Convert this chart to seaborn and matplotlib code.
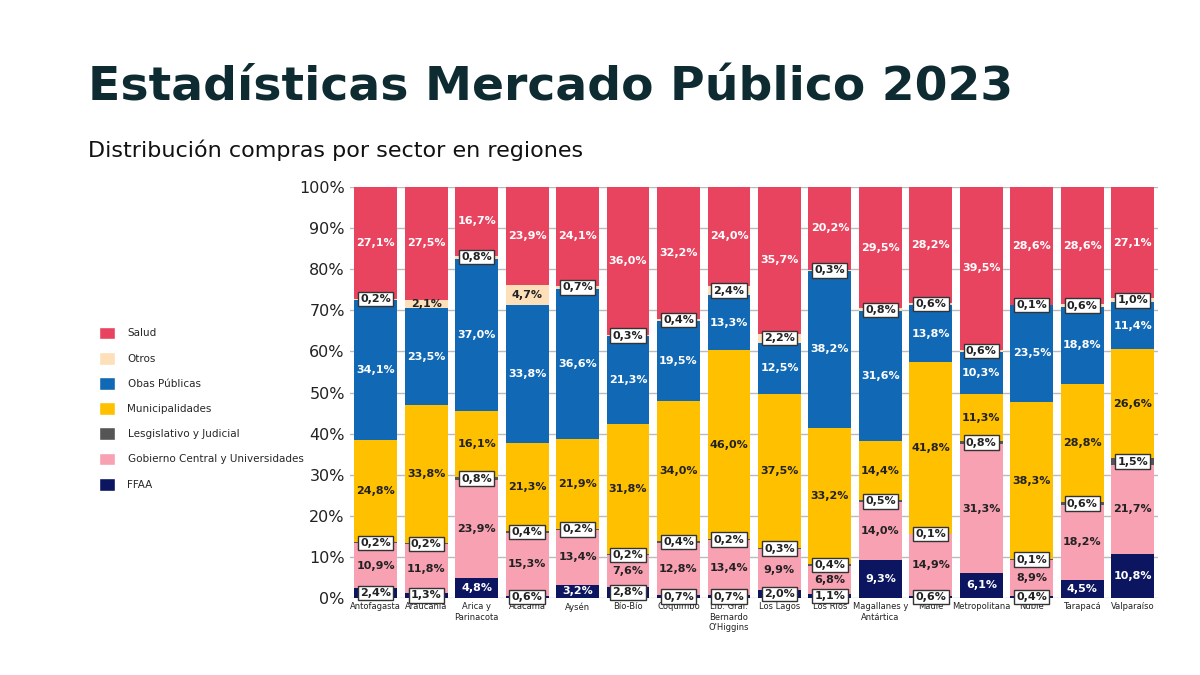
import matplotlib
matplotlib.use("Agg")
import matplotlib.pyplot as plt
import seaborn as sns
import numpy as np
import pandas as pd
from matplotlib.patches import Patch

regions = ["Antofagasta", "Araucanía", "Arica y\nParinacota", "Atacama", "Aysén", "Bío-Bío",
           "Coquimbo", "Lib. Gral.\nBernardo\nO'Higgins", "Los Lagos", "Los Ríos",
           "Magallanes y\nAntártica", "Maule", "Metropolitana", "Ñuble", "Tarapacá", "Valparaíso"]
ffaa = [2.4, 1.3, 4.8, 0.6, 3.2, 2.8, 0.7, 0.7, 2.0, 1.1, 9.3, 0.6, 6.1, 0.4, 4.5, 10.8]
gobierno = [10.9, 11.8, 23.9, 15.3, 13.4, 7.6, 12.8, 13.4, 9.9, 6.8, 14.0, 14.9, 31.3, 8.9, 18.2, 21.7]
legislativo = [0.2, 0.2, 0.8, 0.4, 0.2, 0.2, 0.4, 0.2, 0.3, 0.4, 0.5, 0.1, 0.8, 0.1, 0.6, 1.5]
municipal = [24.8, 33.8, 16.1, 21.3, 21.9, 31.8, 34.0, 46.0, 37.5, 33.2, 14.4, 41.8, 11.3, 38.3, 28.8, 26.6]
obras = [34.1, 23.5, 37.0, 33.8, 36.6, 21.3, 19.5, 13.3, 12.5, 38.2, 31.6, 13.8, 10.3, 23.5, 18.8, 11.4]
otros = [0.2, 2.1, 0.8, 4.7, 0.7, 0.3, 0.4, 2.4, 2.2, 0.3, 0.8, 0.6, 0.6, 0.1, 0.6, 1.0]
salud = [27.1, 27.5, 16.7, 23.9, 24.1, 36.0, 32.2, 24.0, 35.7, 20.2, 29.5, 28.2, 39.5, 28.6, 28.6, 27.1]

series = [
    ("FFAA", ffaa, "#0B1560", "white"),
    ("Gobierno Central y Universidades", gobierno, "#F7A1B3", "#222222"),
    ("Lesgislativo y Judicial", legislativo, "#555555", "white"),
    ("Municipalidades", municipal, "#FFC000", "#222222"),
    ("Obas Públicas", obras, "#1169B5", "white"),
    ("Otros", otros, "#FDDFBA", "#222222"),
    ("Salud", salud, "#E8445F", "white"),
]

sns.set_theme(style="white")
plt.rcParams['font.family'] = ['DejaVu Sans']
fig = plt.figure(figsize=(12, 6.75), dpi=100)
ax = fig.add_axes([0.292, 0.114, 0.673, 0.609])

data = np.array([s[1] for s in series])
totals = data.sum(axis=0)
norm = data / totals * 100
bottom = np.zeros(len(regions))
xpos = np.arange(len(regions))
for i, (name, vals, col, tcol) in enumerate(series):
    df = pd.DataFrame({"region": regions, "v": norm[i]})
    sns.barplot(data=df, x="region", y="v", color=col, bottom=bottom, width=0.85,
                ax=ax, saturation=1, linewidth=0, errorbar=None)
    for j, v in enumerate(vals):
        y = bottom[j] + norm[i][j] / 2
        lbl = f"{v:.1f}%".replace(".", ",")
        boxed = (name == "FFAA" and v < 3) or name == "Lesgislativo y Judicial" or (name == "Otros" and v < 4 and j != 1)
        if boxed:
            ax.text(j, y, lbl, ha="center", va="center", fontsize=8, color="#222222", fontweight="bold",
                    bbox=dict(boxstyle="square,pad=0.2", fc="white", ec="#333333", lw=1))
        else:
            ax.text(j, y, lbl, ha="center", va="center", fontsize=8, color=tcol, fontweight="bold")
    bottom = bottom + norm[i]

ax.set_ylim(0, 100)
ax.set_xlim(-0.5, len(regions) - 0.5)
ax.set_yticks(range(0, 101, 10))
ax.set_yticklabels([f"{t}%" for t in range(0, 101, 10)], fontsize=11.5, color="#222222")
ax.yaxis.grid(True, color="#BBBBBB", lw=1)
ax.set_axisbelow(True)
ax.set_xlabel("")
ax.set_ylabel("")
ax.tick_params(axis="x", labelsize=6, colors="#222222", length=0, pad=3)
ax.tick_params(axis="y", length=0, pad=4)
for s in ax.spines.values():
    s.set_visible(False)

fig.text(0.073, 0.87, "Estadísticas Mercado Público 2023", fontsize=34, fontweight="bold",
         color="#0D2B30", va="center")
fig.text(0.073, 0.778, "Distribución compras por sector en regiones", fontsize=16,
         color="#111111", va="center")

handles = [Patch(facecolor=s[2], label=s[0]) for s in series[::-1]]
fig.legend(handles=handles, loc="upper left", bbox_to_anchor=(0.075, 0.53), frameon=False,
           fontsize=7.5, handlelength=1.5, handleheight=1.5, labelspacing=1.2, handletextpad=1.2)

fig.savefig("out.png", dpi=100)
